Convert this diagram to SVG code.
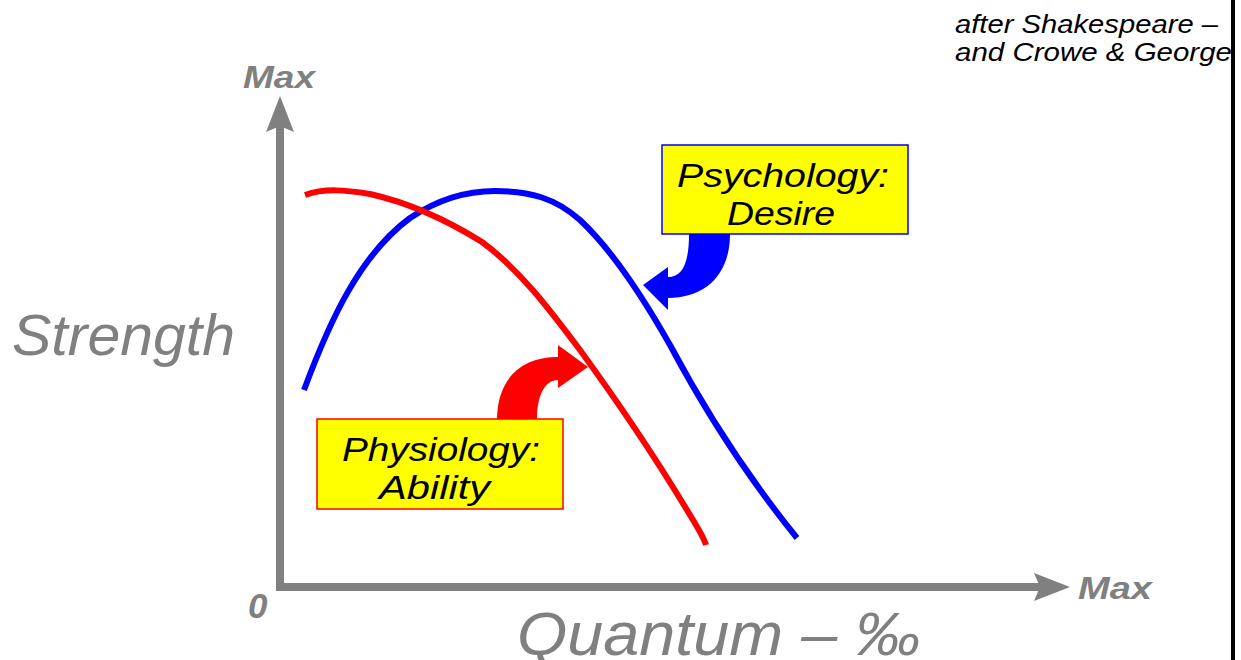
<svg xmlns="http://www.w3.org/2000/svg" width="1241" height="660" viewBox="0 0 1241 660">
<style>
.ax{fill:#808080;font-family:"Liberation Sans",Arial,sans-serif;font-style:italic;font-weight:bold;}
.lab{fill:#808080;font-family:"Liberation Sans",Arial,sans-serif;font-style:italic;}
.bt{fill:#000;font-family:"Liberation Sans",Arial,sans-serif;font-style:italic;}
.axis{stroke:#808080;stroke-width:8;fill:none;}
.curve{fill:none;stroke-width:6;stroke-linecap:butt;stroke-linejoin:round;}
</style>
<rect width="1241" height="660" fill="#fff"/>
<g id="note">
<text class="bt" x="955" y="33" font-size="25" textLength="263" lengthAdjust="spacingAndGlyphs">after Shakespeare –</text>
<text class="bt" x="955" y="61" font-size="25" textLength="277" lengthAdjust="spacingAndGlyphs">and Crowe &amp; George</text>
</g>
<rect id="edge-bar" x="1231" y="0" width="4" height="660" fill="#000"/>
<g id="axes">
<line class="axis" x1="280" y1="591" x2="280" y2="124"/>
<polygon points="280,96 294,132 280,126 266,132" fill="#808080"/>
<line class="axis" x1="276" y1="587" x2="1042" y2="587"/>
<polygon points="1070,587 1034,573 1040,587 1034,601" fill="#808080"/>
<text class="ax" x="243" y="88" font-size="32" textLength="72" lengthAdjust="spacingAndGlyphs">Max</text>
<text class="ax" x="1078" y="599" font-size="32" textLength="74" lengthAdjust="spacingAndGlyphs">Max</text>
<text class="ax" x="248" y="618" font-size="35">0</text>
<text class="lab" x="12" y="355" font-size="57" textLength="223" lengthAdjust="spacingAndGlyphs">Strength</text>
<text class="lab" x="517" y="655" font-size="62" textLength="403" lengthAdjust="spacingAndGlyphs">Quantum – ‰</text>
</g>
<g id="connectors">
<path d="M689,234 L730,234 C730,275 705,298 668,298 L668,310 L643,285 L668,267 L668,277 C683,277 689,262 689,234 Z" fill="#0000ff"/>
<path d="M497,420 C497,380 520,357 558,357 L558,345 L588,367 L558,388 L558,380 C545,380 537,395 537,420 Z" fill="#ff0000"/>
</g>
<g id="desire-curve">
<path class="curve" stroke="#0000ff" d="M304,390 C330,320 360,255 410,218 C440,198 470,191 495,191 C530,191 555,198 580,220 C610,248 640,292 670,345 C710,420 750,480 797,538"/>
</g>
<g id="ability-curve">
<path class="curve" stroke="#ff0000" d="M305,195 C325,188 345,190 370,194 C410,203 450,222 482,242 C520,270 550,310 580,350 C620,405 660,465 690,515 C698,528 704,538 706,545"/>
</g>
<g id="psychology-box">
<rect x="662" y="145" width="246" height="89" fill="#ffff00" stroke="#0000ff" stroke-width="1.5"/>
<text class="bt" x="677" y="187" font-size="34" textLength="212" lengthAdjust="spacingAndGlyphs">Psychology:</text>
<text class="bt" x="727" y="225" font-size="34" textLength="108" lengthAdjust="spacingAndGlyphs">Desire</text>
</g>
<g id="physiology-box">
<rect x="317" y="419" width="246" height="90" fill="#ffff00" stroke="#ff0000" stroke-width="1.5"/>
<text class="bt" x="342" y="461" font-size="34" textLength="198" lengthAdjust="spacingAndGlyphs">Physiology:</text>
<text class="bt" x="379" y="499" font-size="34" textLength="111" lengthAdjust="spacingAndGlyphs">Ability</text>
</g>
</svg>
